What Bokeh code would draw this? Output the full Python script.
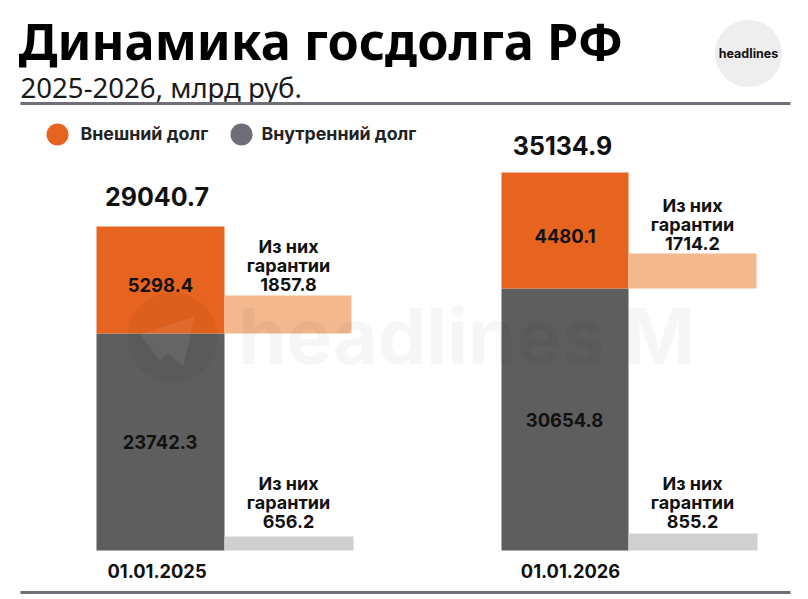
from bokeh.plotting import figure
from bokeh.models import Range1d
from bokeh.core.properties import value
from bokeh.embed import file_html
from bokeh.resources import INLINE

# Data
dates = ["01.01.2025", "01.01.2026"]
totals = ["29040.7", "35134.9"]
external_labels = ["5298.4", "4480.1"]
internal_labels = ["23742.3", "30654.8"]
external_guarantee_labels = ["1857.8", "1714.2"]
internal_guarantee_labels = ["656.2", "855.2"]
# The reference does not draw its bars to scale: these are the heights.
internal_drawn = [217, 262]
external_drawn = [107, 116]
external_guarantee_drawn = [38, 35]
internal_guarantee_drawn = [14, 17]

ORANGE, GREY = "#E66320", "#5E5E5E"
L_ORANGE, L_GREY = "#F3B88D", "#D0D0D0"
RULE = "#6F6F78"
NUM = "Inter"
HEAD = "Noto Sans"

BASE = 550
def Y(py):
    return BASE - py

p = figure(width=808, height=599, output_backend="svg", toolbar_location=None,
           x_range=Range1d(0, 808), y_range=Range1d(Y(599), Y(0)),
           min_border=0, outline_line_color=None)
p.axis.visible = False
p.grid.visible = False
p.background_fill_color = "white"

bar_l = [96, 501]
bar_r = [224, 628]
gu_r = [351, 756]
gi_l = [224, 628]
gi_r = [353, 757]

stack_top = [a + b for a, b in zip(internal_drawn, external_drawn)]
p.quad(left=bar_l, right=bar_r, bottom=[0, 0], top=internal_drawn, fill_color=GREY, line_color=None)
p.quad(left=bar_l, right=bar_r, bottom=internal_drawn, top=stack_top, fill_color=ORANGE, line_color=None)
p.quad(left=bar_r, right=gu_r, bottom=internal_drawn,
       top=[a + b for a, b in zip(internal_drawn, external_guarantee_drawn)],
       fill_color=L_ORANGE, line_color=None)
p.quad(left=gi_l, right=gi_r, bottom=[0, 0], top=internal_guarantee_drawn, fill_color=L_GREY, line_color=None)

# Watermark
p.scatter(x=[172], y=[Y(337)], size=90, marker="circle", fill_color="#000000", fill_alpha=0.04, line_color=None)
p.patch(x=[140, 194, 183, 167, 159], y=[Y(334), Y(316), Y(365), Y(353), Y(360)],
        fill_color="#ffffff", fill_alpha=0.07, line_color=None)
p.text(x=[238], y=[Y(335)], text=["headlines M"], text_font=value("Inter"), text_font_style="bold",
       text_font_size="77px", text_color="#000000", text_alpha=0.035,
       text_align="left", text_baseline="middle")

def txt(x, py, s, size, font=NUM, style="bold", color="#111111", align="center"):
    p.text(x=[x], y=[Y(py)], text=[s], text_font=value(font), text_font_style=style,
           text_font_size=f"{size}px", text_color=color, text_align=align, text_baseline="middle")

# Header
txt(18, 40, "Динамика госдолга РФ", 50.4, HEAD, "bold", "#000000", "left")
txt(20, 86, "2025-2026, млрд руб.", 27.6, HEAD, "normal", "#1a1a1a", "left")
p.quad(left=[20], right=[790], bottom=[Y(104.5)], top=[Y(101.5)], fill_color=RULE, line_color=None)
p.quad(left=[20], right=[790], bottom=[Y(593.5)], top=[Y(590.5)], fill_color=RULE, line_color=None)

# Logo
p.scatter(x=[748], y=[Y(53)], size=67, marker="circle", fill_color="#EEEEEE", line_color=None)
txt(748, 53, "headlines", 12.5, NUM, "bold", "#111111")

# Legend
p.scatter(x=[57], y=[Y(134)], size=22, marker="circle", fill_color=ORANGE, line_color=None)
txt(80, 133, "Внешний долг", 17.8, NUM, "bold", "#222222", "left")
p.scatter(x=[241], y=[Y(134)], size=22, marker="circle", fill_color="#6E6E78", line_color=None)
txt(261, 133, "Внутренний долг", 17.8, NUM, "bold", "#222222", "left")

# Labels
for i in range(2):
    txt([156.5, 562][i], [196, 145][i], totals[i], 25, NUM, "bold", "#111111")
    txt([160, 564.5][i], [284, 235][i], external_labels[i], 18.4, NUM, "bold")
    txt([159.5, 564][i], [441, 419][i], internal_labels[i], 18.4, NUM, "bold")
    txt([156.5, 570][i], 570, dates[i], 18.3, NUM, "bold")
    gx = [288, 692][i]
    tops = [246, 205][i]
    txt(gx, tops, "Из них", 18, NUM, "bold")
    txt(gx, tops + 19, "гарантии", 18, NUM, "bold")
    txt(gx, tops + 38, external_guarantee_labels[i], 18, NUM, "bold")
    txt(gx, 483, "Из них", 18, NUM, "bold")
    txt(gx, 502, "гарантии", 18, NUM, "bold")
    txt(gx, 521, internal_guarantee_labels[i], 18, NUM, "bold")

open("out.html", "w").write(file_html(p, INLINE))
